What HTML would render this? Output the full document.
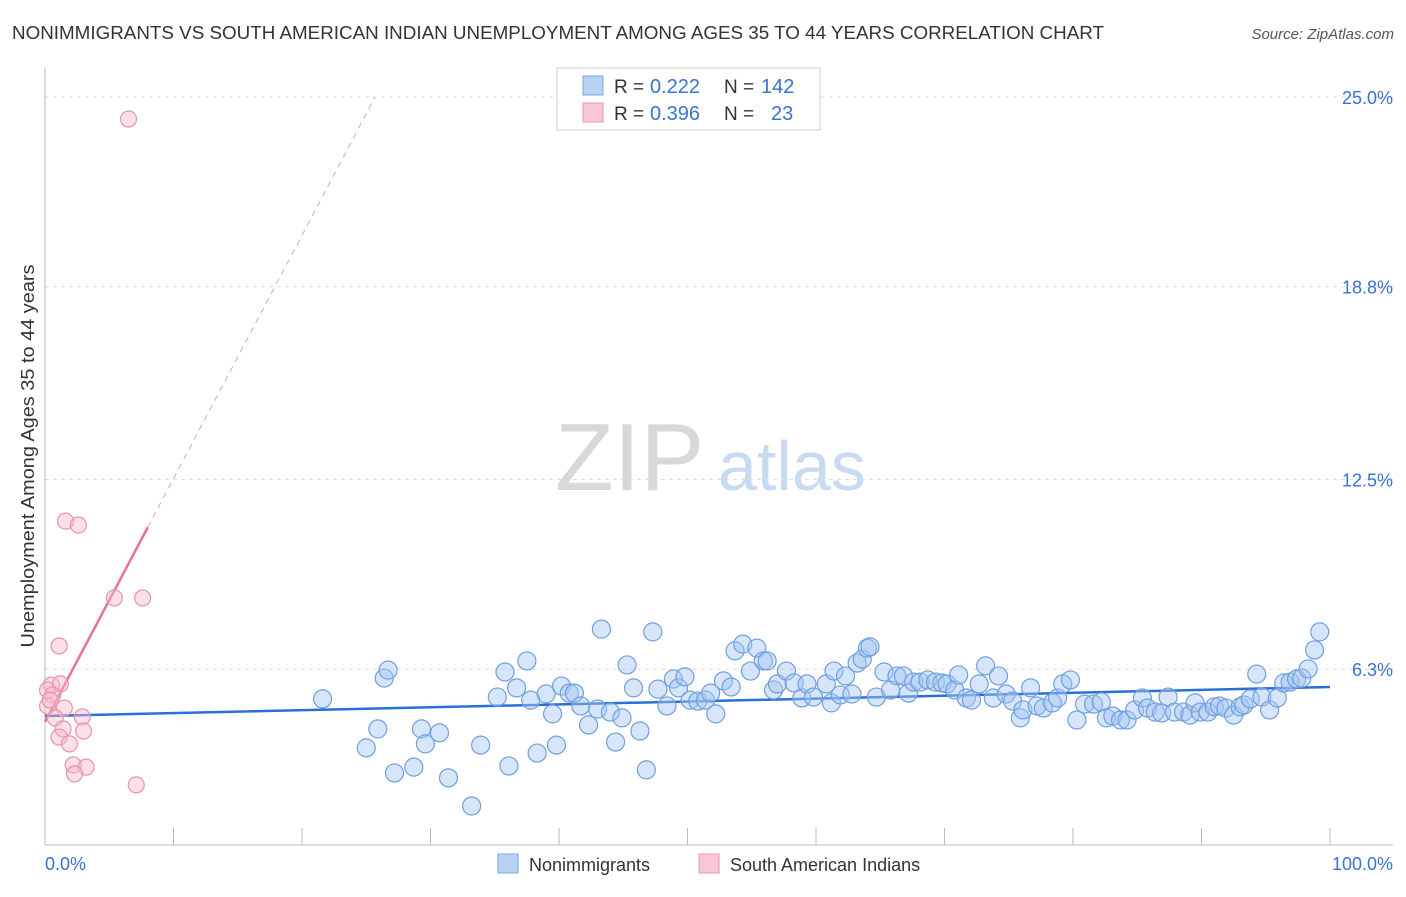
<!DOCTYPE html>
<html><head><meta charset="utf-8"><style>
body{margin:0;background:#fff;font-family:"Liberation Sans",sans-serif;}
svg text{font-family:"Liberation Sans",sans-serif;}
</style></head><body>
<svg id="chart" width="1406" height="892" xmlns="http://www.w3.org/2000/svg">
<text x="12" y="39" font-size="18" fill="#333" textLength="1092" lengthAdjust="spacingAndGlyphs">NONIMMIGRANTS VS SOUTH AMERICAN INDIAN UNEMPLOYMENT AMONG AGES 35 TO 44 YEARS CORRELATION CHART</text>
<text x="1394" y="39" font-size="15" fill="#555" font-style="italic" text-anchor="end">Source: ZipAtlas.com</text>
<g>
<text x="555" y="490" font-size="96" fill="#d8d8d8" font-family="Liberation Serif, serif">ZIP</text>
<text x="718" y="490" font-size="70" fill="#c8daf2">atlas</text>
</g>
<g id="grid"></g>
<g id="axes"></g>
<g id="lines"></g>
<g id="pts"></g>
<text transform="translate(34,456) rotate(-90)" font-size="18" fill="#333" text-anchor="middle" textLength="383" lengthAdjust="spacingAndGlyphs">Unemployment Among Ages 35 to 44 years</text>
<text x="45" y="870" font-size="18" fill="#3a72d0">0.0%</text>
<text x="1393" y="870" font-size="18" fill="#3a72d0" text-anchor="end">100.0%</text>
<g>
<rect x="557" y="68" width="263" height="62" fill="#fff" stroke="#ccc"/>
<rect x="583" y="76" width="20" height="19" fill="#b8d2f4" stroke="#7aa6e0"/>
<rect x="583" y="103" width="20" height="19" fill="#f9c6d4" stroke="#e899b0"/>
<text x="614" y="93" font-size="19" fill="#333">R =</text>
<text x="650" y="93" font-size="20" fill="#3a72d0">0.222</text>
<text x="724" y="93" font-size="19" fill="#333">N =</text>
<text x="761" y="93" font-size="20" fill="#3a72d0">142</text>
<text x="614" y="120" font-size="19" fill="#333">R =</text>
<text x="650" y="120" font-size="20" fill="#3a72d0">0.396</text>
<text x="724" y="120" font-size="19" fill="#333">N =</text>
<text x="771" y="120" font-size="20" fill="#3a72d0">23</text>
</g>
<g>
<rect x="498" y="854" width="20" height="19" fill="#b8d2f4" stroke="#7aa6e0"/>
<text x="529" y="871" font-size="18" fill="#333">Nonimmigrants</text>
<rect x="699" y="854" width="20" height="19" fill="#f9c6d4" stroke="#e899b0"/>
<text x="730" y="871" font-size="18" fill="#333">South American Indians</text>
</g>
</svg>
<script>
const yTicks=[25.0,18.8,12.5,6.3];
const yTickLabels=["25.0%","18.8%","12.5%","6.3%"];
const blueX=[21.6,26.4,26.7,25.0,25.9,27.2,28.7,29.3,29.6,30.7,31.4,33.2,33.9,35.2,35.8,36.1,36.7,37.5,37.8,38.3,39.0,39.5,39.8,40.2,40.8,41.2,41.7,42.3,43.0,43.3,44.0,44.4,44.9,45.3,45.8,46.3,46.8,47.3,47.7,48.4,48.9,49.3,49.8,50.2,50.8,51.4,51.8,52.2,52.8,53.4,53.7,54.3,54.9,55.4,55.9,56.2,56.7,57.0,57.7,58.3,58.9,59.3,59.8,60.8,61.2,61.4,61.9,62.3,62.8,63.2,63.6,64.0,64.2,64.7,65.3,65.8,66.3,66.8,67.2,67.6,68.1,68.7,69.3,69.8,70.2,70.8,71.1,71.7,72.1,72.7,73.2,73.8,74.2,74.8,75.3,75.9,76.1,76.7,77.2,77.7,78.4,78.8,79.2,79.8,80.3,80.9,81.6,82.2,82.6,83.1,83.7,84.2,84.8,85.4,85.8,86.4,86.9,87.4,87.9,88.6,89.1,89.5,89.9,90.5,91.0,91.4,91.9,92.5,93.0,93.3,93.8,94.3,94.7,95.3,95.9,96.4,96.9,97.4,97.8,98.3,98.8,99.2];
const blueY=[5.33,6.01,6.27,3.73,4.35,2.91,3.10,4.35,3.86,4.22,2.75,1.83,3.82,5.39,6.21,3.14,5.69,6.57,5.29,3.56,5.49,4.84,3.82,5.75,5.52,5.52,5.10,4.48,5.00,7.61,4.90,3.92,4.71,6.44,5.69,4.28,3.01,7.52,5.65,5.10,5.98,5.69,6.05,5.29,5.26,5.29,5.52,4.84,5.92,5.72,6.90,7.12,6.24,6.99,6.57,6.57,5.62,5.82,6.24,5.85,5.36,5.82,5.39,5.82,5.20,6.24,5.46,6.08,5.49,6.50,6.63,6.99,7.03,5.39,6.21,5.62,6.08,6.08,5.52,5.88,5.88,5.95,5.88,5.85,5.82,5.62,6.11,5.36,5.29,5.82,6.41,5.36,6.08,5.49,5.26,4.71,4.97,5.69,5.10,5.03,5.20,5.36,5.82,5.95,4.64,5.16,5.16,5.23,4.71,4.77,4.64,4.64,4.97,5.36,5.03,4.90,4.87,5.39,4.90,4.90,4.80,5.20,4.90,4.90,5.07,5.10,5.03,4.80,5.07,5.13,5.33,6.14,5.39,4.97,5.36,5.85,5.88,5.98,6.01,6.31,6.93,7.52];
const pinkX=[6.5,1.6,2.6,5.4,7.6,1.1,0.5,1.2,0.2,0.6,0.2,1.5,0.8,2.9,1.4,3.0,1.1,1.9,2.2,3.2,2.3,7.1,0.4];
const pinkY=[24.28,11.14,11.01,8.63,8.63,7.06,5.78,5.82,5.62,5.46,5.10,5.03,4.71,4.74,4.35,4.28,4.08,3.86,3.17,3.10,2.88,2.52,5.29];
const blueTrend=[4.77,5.72];
const pinkTrend=[4.58,0.795];
const pinkSolidEnd=8.0;
const NS="http://www.w3.org/2000/svg";
function sx(v){return 45+v*12.85;}
function sy(v){return 862-v*30.6;}
function mk(tag,attrs,parent){const e=document.createElementNS(NS,tag);for(const k in attrs)e.setAttribute(k,attrs[k]);document.getElementById(parent).appendChild(e);return e;}
yTicks.forEach((t,i)=>{
 const g=mk('line',{x1:45,x2:1393,y1:sy(t),y2:sy(t),stroke:'#ddd','stroke-dasharray':'4,4'},'grid');
 
 
 const l=mk('text',{x:1393,y:sy(t)+7,'font-size':18,fill:'#3a72d0','text-anchor':'end'},'grid');
 l.textContent=yTickLabels[i];
 
 
});
const ya=mk('line',{x1:45,x2:45,y1:68,y2:845,stroke:'#bbb'},'axes');


const xa=mk('line',{x1:45,x2:1393,y1:845,y2:845,stroke:'#bbb'},'axes');


for(let i=0;i<=10;i++){
 const t=mk('line',{x1:sx(i*10),x2:sx(i*10),y1:828,y2:845,stroke:'#bbb'},'axes');
 
 
}
const bl=mk('line',{x1:sx(0),x2:sx(100),y1:sy(blueTrend[0]),y2:sy(blueTrend[1]),stroke:'#2a6fd6','stroke-width':2.5},'lines');


const pEnd=(25-pinkTrend[0])/pinkTrend[1];
const pd=mk('line',{x1:sx(pinkSolidEnd),x2:sx(pEnd),y1:sy(pinkTrend[0]+pinkTrend[1]*pinkSolidEnd),y2:sy(25),stroke:'#e8a0b8','stroke-width':1,'stroke-dasharray':'6,5'},'lines');


const ps=mk('line',{x1:sx(0),x2:sx(pinkSolidEnd),y1:sy(pinkTrend[0]),y2:sy(pinkTrend[0]+pinkTrend[1]*pinkSolidEnd),stroke:'#e8709a','stroke-width':2.5},'lines');


blueX.forEach((x,i)=>{
 const c=mk('circle',{cx:sx(x),cy:sy(blueY[i]),r:9,fill:'rgba(165,198,242,0.45)',stroke:'#6f9fe0','stroke-width':1.2},'pts');
 
 
});
pinkX.forEach((x,i)=>{
 const c=mk('circle',{cx:sx(x),cy:sy(pinkY[i]),r:8,fill:'rgba(248,185,205,0.45)',stroke:'#e893ae','stroke-width':1.2},'pts');
 
 
});
</script>
</body></html>
